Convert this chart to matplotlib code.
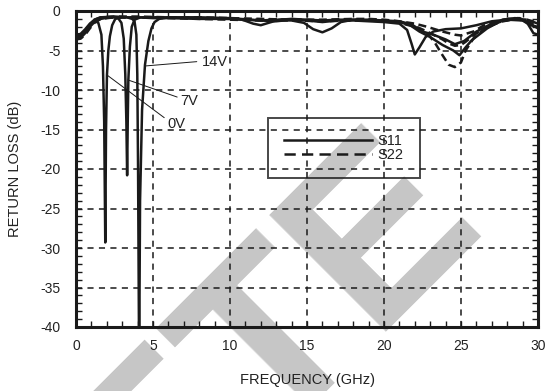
import numpy as np
import matplotlib
matplotlib.use("Agg")
import matplotlib.pyplot as plt
from matplotlib.lines import Line2D

plt.rcParams["font.family"] = ["Liberation Sans", "DejaVu Sans"]
plt.rcParams["axes.unicode_minus"] = False

# S11, solid lines (frequency in GHz, return loss in dB)
f_s11_0v = [0, 0.3, 0.6, 0.9, 1.2, 1.45, 1.65, 1.75, 1.83, 1.9, 1.95, 2.01, 2.1, 2.2, 2.35, 2.55, 3, 4, 5, 6, 8, 10,
            11, 12, 13, 14, 15, 16, 17, 18, 19, 20, 21, 21.5, 21.8, 22.0, 22.3, 22.7, 23.2, 24, 25, 26, 27, 28, 29,
            29.5, 30]
s11_0v = [-3.3, -3.2, -2.6, -1.9, -1.2, -1.5, -3.0, -7.0, -14.0, -29.3, -15.0, -8.1, -5.0, -3.2, -1.8, -1.0, -0.8,
          -0.8, -0.9, -0.9, -1.0, -1.0, -1.1, -1.2, -1.3, -1.1, -1.2, -1.4, -1.2, -1.2, -1.3, -1.4, -1.6, -2.4, -4.2,
          -5.5, -4.6, -3.3, -2.6, -2.3, -2.2, -1.8, -1.3, -1.1, -1.2, -1.8, -2.0]

f_s11_7v = [0, 0.3, 0.6, 0.9, 1.2, 1.6, 2.2, 2.7, 2.95, 3.1, 3.2, 3.27, 3.32, 3.36, 3.4, 3.5, 3.62, 3.8, 4.2, 5, 6,
            8, 10, 10.8, 11.5, 12, 12.5, 13.2, 14, 15, 16, 17, 18, 19, 20, 21, 21.7, 22.3, 23, 23.8, 24.5, 24.9,
            25.3, 25.7, 26.7, 27.7, 28.8, 29.3, 29.7, 30]
s11_7v = [-3.5, -3.4, -2.8, -2.0, -1.4, -1.0, -0.8, -0.8, -1.5, -3.5, -8.0, -14.0, -20.8, -14.0, -8.7, -4.5, -2.0,
          -1.1, -0.8, -0.8, -0.8, -0.9, -1.0, -1.1, -1.6, -1.8, -1.5, -1.1, -1.0, -1.1, -1.2, -1.1, -1.1, -1.2, -1.3,
          -1.4, -1.8, -2.6, -3.3, -4.3, -5.0, -5.6, -4.6, -3.7, -2.2, -1.1, -0.9, -1.5, -2.8, -3.0]

f_s11_14v = [0, 0.3, 0.6, 0.9, 1.2, 1.6, 2.5, 3.3, 3.65, 3.8, 3.92, 3.98, 4.03, 4.1, 4.16, 4.29, 4.48, 4.7, 4.9,
             5.1, 5.4, 6, 8, 10, 12, 13, 14, 14.8, 15.4, 16, 16.6, 17.2, 18, 19, 20, 21, 21.8, 22.5, 23.2, 24, 24.6,
             25.2, 26, 27, 28, 28.7, 29.3, 30]
s11_14v = [-3.0, -2.9, -2.3, -1.6, -1.1, -0.8, -0.7, -0.8, -1.0, -1.3, -3.0, -8.0, -20.0, -45.0, -24.0, -12.5,
           -6.8, -3.8, -2.2, -1.4, -1.0, -0.8, -0.8, -0.9, -1.2, -1.1, -1.2, -1.5, -2.3, -2.7, -2.2, -1.4, -1.1, -1.1,
           -1.2, -1.3, -1.7, -2.6, -3.0, -3.6, -4.2, -3.8, -2.6, -1.6, -1.0, -0.9, -1.4, -2.2]

# S22, dashed lines
f_s22 = [0, 0.3, 0.6, 0.9, 1.2, 1.6, 2.5, 4, 6, 8, 10, 12, 14, 16, 18, 19, 20, 21, 22, 22.8, 23.3, 23.8, 24.2,
         24.6, 25.0, 25.3, 25.8, 26.5, 27.5, 28.5, 29.3, 30]
s22_0v = [-3.6, -3.5, -3.0, -2.2, -1.5, -1.0, -0.8, -0.8, -0.9, -1.0, -1.1, -1.2, -1.2, -1.3, -1.2, -1.2, -1.3,
          -1.5, -2.0, -2.8, -4.0, -5.6, -6.8, -7.1, -6.5, -5.0, -3.5, -2.3, -1.4, -1.0, -1.3, -2.0]
s22_7v = [-3.4, -3.3, -2.7, -1.9, -1.3, -0.9, -0.8, -0.8, -0.8, -0.9, -1.0, -1.1, -1.1, -1.2, -1.1, -1.1, -1.2,
          -1.4, -1.9, -2.6, -3.1, -3.6, -4.1, -4.4, -4.3, -3.9, -3.1, -2.2, -1.4, -1.0, -1.1, -1.6]
s22_14v = [-3.1, -3.0, -2.4, -1.7, -1.1, -0.8, -0.7, -0.7, -0.8, -0.8, -0.9, -1.0, -1.1, -1.1, -1.0, -1.0, -1.1,
           -1.3, -1.6, -2.0, -2.3, -2.6, -2.8, -3.0, -3.1, -2.9, -2.6, -1.8, -1.2, -0.9, -1.1, -1.5]

x_ticks = [0, 5, 10, 15, 20, 25, 30]
y_ticks = [0, -5, -10, -15, -20, -25, -30, -35, -40]

ink = "#1a1a1a"
lw = 1.8

fig = plt.figure(figsize=(5.49, 3.91), dpi=100)
fig.patch.set_facecolor("white")

# grey watermark behind the plot
fig.text(319 / 549, 1 - 383 / 391, "ETE", fontsize=173, fontweight="bold", color="#c6c6c6",
         rotation=45, rotation_mode="anchor", ha="center", va="baseline", zorder=-5)

ax = fig.add_axes([76 / 549, 1 - 327 / 391, 462 / 549, 316 / 391])
ax.set_facecolor("none")

ax.plot(f_s11_0v, s11_0v, color=ink, lw=lw, solid_joinstyle="round")
ax.plot(f_s11_7v, s11_7v, color=ink, lw=lw, solid_joinstyle="round")
ax.plot(f_s11_14v, s11_14v, color=ink, lw=lw, solid_joinstyle="round")
for s in (s22_0v, s22_7v, s22_14v):
    ax.plot(f_s22, s, color=ink, lw=lw, linestyle=(0, (3.2, 1.8)))

ax.set_xlim(0, 30)
ax.set_ylim(-40, 0)
ax.set_xticks(x_ticks)
ax.set_yticks(y_ticks)
ax.set_xticks(np.arange(0, 31, 1), minor=True)
ax.set_yticks(np.arange(-40, 1, 1), minor=True)
ax.tick_params(which="both", direction="in", top=True, right=True, length=4, width=1.0, color=ink)
ax.tick_params(which="major", labelsize=10, labelcolor="#222222", pad=9)
ax.tick_params(axis="y", which="major", pad=11)
ax.grid(True, which="major", color=ink, lw=1.1, linestyle=(0, (4, 3.5)))
for sp in ax.spines.values():
    sp.set_linewidth(2.2)
    sp.set_color(ink)

ax.set_xlabel("FREQUENCY (GHz)", fontsize=10.5, color="#222222", labelpad=14)
ax.set_ylabel("RETURN LOSS (dB)", fontsize=10.5, color="#222222", labelpad=13)

leader = dict(arrowstyle="-", color=ink, lw=0.7, shrinkA=0, shrinkB=0)
ax.annotate("14V", xy=(4.48, -6.96), xytext=(8.18, -6.5), fontsize=10.5, color="#222222",
            ha="left", va="center", arrowprops=dict(leader, relpos=(-0.2, 0.55)))
ax.annotate("7V", xy=(3.38, -8.73), xytext=(6.75, -11.33), fontsize=10.5, color="#222222",
            ha="left", va="center", arrowprops=dict(leader, relpos=(-0.05, 0.7)))
ax.annotate("0V", xy=(2.01, -8.1), xytext=(5.91, -14.3), fontsize=10.5, color="#222222",
            ha="left", va="center", arrowprops=dict(leader, relpos=(-0.05, 0.85)))

handles = [Line2D([], [], color=ink, lw=lw),
           Line2D([], [], color=ink, lw=lw, linestyle=(0, (4.5, 2.5)))]
leg = ax.legend(handles, ["S11", "S22"], loc="upper left", bbox_to_anchor=(0.416, 0.661),
                fontsize=10.5, frameon=True, fancybox=False, handlelength=6.0, handletextpad=0.4,
                labelspacing=0.0, borderpad=1.1, borderaxespad=0, facecolor="none")
leg.get_frame().set_edgecolor(ink)
leg.get_frame().set_linewidth(1.4)
for t in leg.get_texts():
    t.set_color("#222222")

fig.savefig("out.png", dpi=100)
